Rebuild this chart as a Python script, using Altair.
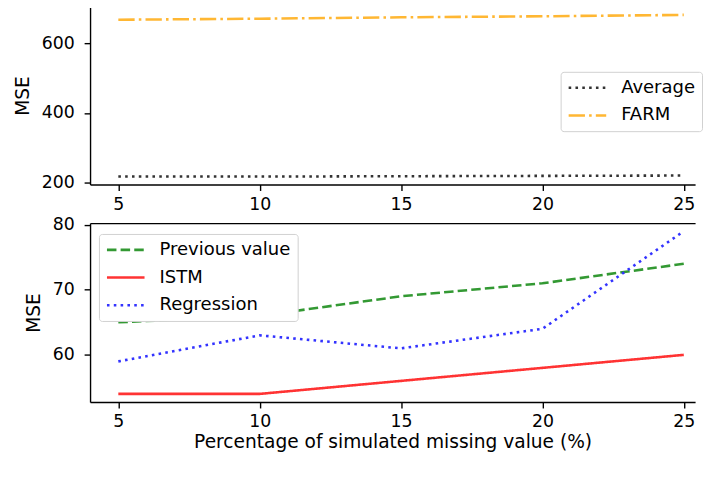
import altair as alt
import pandas as pd

pct = [5, 10, 15, 20, 25]
average = [216, 216, 217, 218, 219]
farm = [669, 672, 676, 679, 683]
previous_value = [65, 66, 69, 71, 74]
istm = [54, 54, 56, 58, 60]
regression = [59, 63, 61, 64, 79]

top_names = ["Average", "FARM"]
top_colors = ["#333333", "#ffb733"]
top_dashes = [[2.6, 4.3], [16.5, 4.2, 2.6, 4.2]]

bot_names = ["Previous value", "ISTM", "Regression"]
bot_colors = ["#339933", "#ff3333", "#3333ff"]
bot_dashes = [[9.6, 4.2], [1, 0], [2.6, 4.3]]

FONT = "DejaVu Sans"
TICK_FS = 17.5
TITLE_FS = 18.8
LEG_FS = 18.2

top_df = pd.DataFrame({
    "pct": pct * 2,
    "mse": average + farm,
    "series": [top_names[0]] * 5 + [top_names[1]] * 5,
})
bot_df = pd.DataFrame({
    "pct": pct * 3,
    "mse": previous_value + istm + regression,
    "series": [bot_names[0]] * 5 + [bot_names[1]] * 5 + [bot_names[2]] * 5,
})

XDOM = [4, 25.4]
W = 612


def panel(df, names, colors, dashes, ydom, yticks, legx, legy, xtitle, h):
    legend = alt.Legend(
        title=None, orient="none", legendX=legx, legendY=legy,
        symbolType="M-1.6,0H6.0", symbolSize=100, symbolStrokeWidth=2.6,
        labelFont=FONT, labelFontSize=LEG_FS, labelColor="black", labelOffset=36,
        fillColor="white", strokeColor="#d0d0d0", cornerRadius=3,
        padding=7, rowPadding=9, labelLimit=300,
    )
    xaxis = alt.Axis(values=pct, title=xtitle, labelPadding=5, titlePadding=2)
    lines = alt.Chart(df).mark_line(strokeWidth=2.6, clip=True).encode(
        x=alt.X("pct:Q", scale=alt.Scale(domain=XDOM, nice=False, zero=False), axis=xaxis),
        y=alt.Y("mse:Q", scale=alt.Scale(domain=ydom, nice=False, zero=False),
                axis=alt.Axis(values=yticks, title="MSE", labelPadding=10, titlePadding=9)),
        color=alt.Color("series:N", scale=alt.Scale(domain=names, range=colors), legend=legend, sort=names),
        strokeDash=alt.StrokeDash("series:N", scale=alt.Scale(domain=names, range=dashes), legend=legend, sort=names),
    )
    border = alt.Chart(df).mark_point(opacity=0).encode(
        x=alt.X("pct:Q", scale=alt.Scale(domain=XDOM, nice=False, zero=False),
                axis=alt.Axis(orient="top", labels=False, ticks=False, title=None, domain=True)),
    )
    return alt.layer(lines, border).resolve_axis(x="independent").properties(width=W, height=h)


top = panel(top_df, top_names, top_colors, top_dashes, [193, 707], [200, 400, 600], 476, 66, None, 180)
bot = panel(bot_df, bot_names, bot_colors, bot_dashes, [52.75, 80.25], [60, 70, 80], 9, 11,
            "Percentage of simulated missing value (%)", 181)

chart = alt.vconcat(top, bot, spacing=2).resolve_scale(color="independent", strokeDash="independent").properties(
    padding={"left": 5, "top": -4, "right": 0, "bottom": 0}
).configure_view(stroke=None).configure_axis(
    domainColor="black", domainWidth=1.4, tickColor="black", tickWidth=1.4, tickSize=6,
    labelFont=FONT, labelFontSize=TICK_FS, labelColor="black", grid=False,
    titleFont=FONT, titleFontSize=TITLE_FS, titleFontWeight="normal", titleColor="black",
)

chart.save("out.html", embed_options={"renderer": "svg", "actions": False})
